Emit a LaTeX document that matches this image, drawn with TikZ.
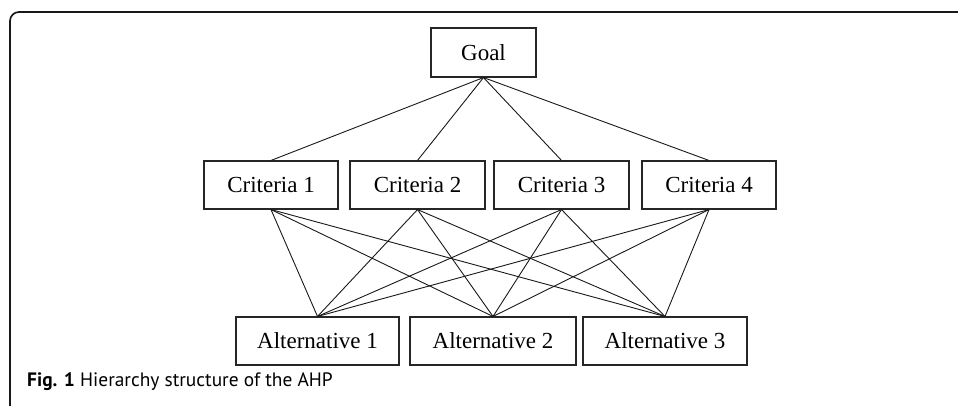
\documentclass[tikz,border=0pt]{standalone}
\usepackage{fontspec}
\setmainfont{Liberation Serif}
\newfontfamily\capfont{PT Sans}
\begin{document}
\begin{tikzpicture}[x=1pt,y=-1pt,
  box/.style={draw=black!85,line width=1.1pt,rectangle,inner sep=0pt,minimum height=48pt,font=\fontsize{23}{27}\selectfont},
  link/.style={draw=black!90,line width=0.9pt}]
\useasboundingbox (0,0) rectangle (958,405);
\draw[black!90,line width=1.7pt,rounded corners=9pt] (10,406) -- (10,12) -- (959,12);
\node[box,minimum width=105pt,minimum height=49pt] (g) at (483.5,52.5) {Goal};
\node[box,minimum width=134pt] (c1) at (271,185) {Criteria 1};
\node[box,minimum width=135pt] (c2) at (417.5,185) {Criteria 2};
\node[box,minimum width=135pt] (c3) at (561.5,185) {Criteria 3};
\node[box,minimum width=134pt] (c4) at (709,185) {Criteria 4};
\node[box,minimum width=163pt] (a1) at (317.5,341) {Alternative 1};
\node[box,minimum width=166pt] (a2) at (493,341) {Alternative 2};
\node[box,minimum width=164pt] (a3) at (665,341) {Alternative 3};
\foreach \c in {c1,c2,c3,c4}{
  \draw[link] (g.south) -- (\c.north);
  \foreach \a in {a1,a2,a3}{\draw[link] (\c.south) -- (\a.north);}
}
\node[anchor=base west,inner sep=0pt,font=\capfont\fontsize{19.4}{23}\selectfont] (cap) at (27,386) {\textbf{Fig. 1} Hierarchy structure of the AHP};
\end{tikzpicture}
\end{document}
